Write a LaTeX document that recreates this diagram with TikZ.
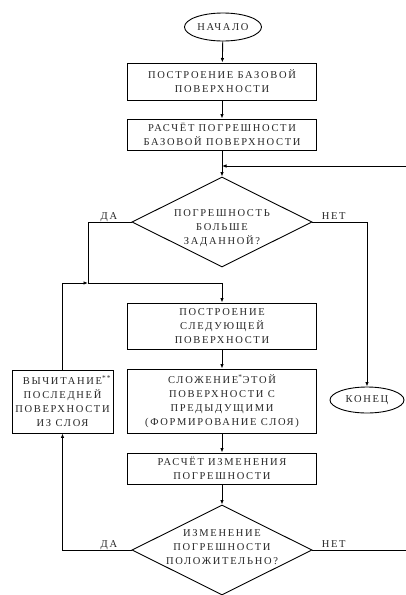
\documentclass[tikz,border=0pt]{standalone}
\usepackage{fontspec}
\setmainfont{Liberation Serif}
\newfontfamily\flowfont[LetterSpace=16]{Liberation Serif}
\usetikzlibrary{calc, positioning}
\usetikzlibrary{shapes.geometric}
\usetikzlibrary{arrows.meta}

\begin{document}
\begin{tikzpicture}[x=1pt, y=-1pt, line width=0.9pt,
  every node/.style={font=\flowfont\fontsize{10.5}{14}\selectfont, text=black!85, align=center},
  process/.style={draw, minimum width=189pt, inner sep=0pt},
  terminal/.style={draw, ellipse, inner sep=0pt},
  decision/.style={draw, diamond, minimum width=180pt, minimum height=90pt, inner sep=0pt},
  flow/.style={-{Latex[length=4.5pt,width=3.5pt]}},
  answer/.style={inner sep=0pt}]
\useasboundingbox (0,0) rectangle (405,595);

% Start and the base surface
\node[terminal, minimum width=77pt, minimum height=28pt] (start) at (223,27) {НАЧАЛО};
\node[process, minimum height=37pt] (base) at (222,81.5) {ПОСТРОЕНИЕ БАЗОВОЙ\\ПОВЕРХНОСТИ};
\node[process, minimum height=31pt] (baseerr) at (222,134.5) {РАСЧЁТ ПОГРЕШНОСТИ\\БАЗОВОЙ ПОВЕРХНОСТИ};

% First check
\node[decision] (check) at (222,222) {};
\node (checktext) at ($(check)+(0,6)$) {ПОГРЕШНОСТЬ\\БОЛЬШЕ\\ЗАДАННОЙ?};
\node[answer, anchor=base east] (yes1) at ($(check.west)+(-14,-3)$) {ДА};
\node[answer, anchor=base west] (no1) at ($(check.east)+(9,-3)$) {НЕТ};

% Building the layer
\node[process, minimum height=46pt] (next) at (222,326) {ПОСТРОЕНИЕ\\СЛЕДУЮЩЕЙ\\ПОВЕРХНОСТИ};
\node[process, minimum height=64pt] (sum) at (222,401) {СЛОЖЕНИЕ\textsuperscript{*}ЭТОЙ\\ПОВЕРХНОСТИ С\\ПРЕДЫДУЩИМИ\\(ФОРМИРОВАНИЕ СЛОЯ)};
\node[process, minimum width=101pt, minimum height=63pt] (sub) at (62.5,401.5) {ВЫЧИТАНИЕ\rlap{\textsuperscript{**}}\\ПОСЛЕДНЕЙ\\ПОВЕРХНОСТИ\\ИЗ СЛОЯ};
\node[terminal, minimum width=74pt, minimum height=26pt] (finish) at (367,400) {КОНЕЦ};
\node[process, minimum height=31pt] (delta) at (222,468.5) {РАСЧЁТ ИЗМЕНЕНИЯ\\ПОГРЕШНОСТИ};

% Second check
\node[decision] (sign) at (222,550) {};
\node (signtext) at ($(sign)+(0,-3)$) {ИЗМЕНЕНИЕ\\ПОГРЕШНОСТИ\\ПОЛОЖИТЕЛЬНО?};
\node[answer, anchor=base east] (yes2) at ($(sign.west)+(-14,-3)$) {ДА};
\node[answer, anchor=base west] (no2) at ($(sign.east)+(9,-3)$) {НЕТ};

% Junctions (the loop back runs past the right edge)
\coordinate (merge) at (222,166);
\coordinate (join) at (88,283);
\coordinate (loopR) at (412,166);

% Connectors
\draw[flow] (start) -- (base);
\draw[flow] (base) -- (baseerr);
\draw[flow] (baseerr) -- (check);
\draw[flow] (sign.east) -| (loopR) -- (merge);
\draw[flow] (check.east) -| (finish.north);
\draw (check.west) -| (join);
\draw[flow] (join) -| (next.north);
\draw[flow] (sub.north) |- (join);
\draw[flow] (next) -- (sum);
\draw[flow] (sum) -- (delta);
\draw[flow] (delta) -- (sign);
\draw[flow] (sign.west) -| (sub.south);
\end{tikzpicture}
\end{document}
